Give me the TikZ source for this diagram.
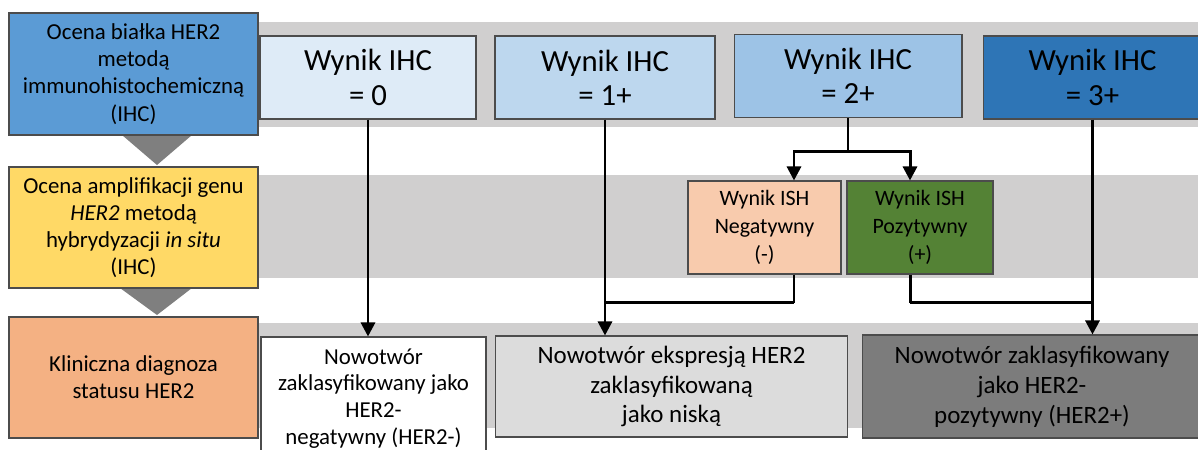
\documentclass[tikz,border=0pt]{standalone}
\usepackage{fontspec}
\setmainfont{Carlito}
\usetikzlibrary{arrows.meta,positioning}
\definecolor{band}{HTML}{D0CFCF}
\definecolor{chev}{HTML}{7F7F7F}
\definecolor{sideblue}{HTML}{5B9BD5}
\definecolor{sideyellow}{HTML}{FFD966}
\definecolor{sideorange}{HTML}{F4B183}
\definecolor{ihczero}{HTML}{DEEBF7}
\definecolor{ihcone}{HTML}{BDD7EE}
\definecolor{ihctwo}{HTML}{9DC3E6}
\definecolor{ihcthree}{HTML}{2E75B6}
\definecolor{ishneg}{HTML}{F8CBAD}
\definecolor{ishpos}{HTML}{548235}
\definecolor{lowgray}{HTML}{DCDCDC}
\definecolor{posgray}{HTML}{7C7C7C}

\begin{document}
\begin{tikzpicture}[x=0.02cm,y=-0.02cm,>={Triangle[length=2.8mm,width=2.8mm]},
  box/.style={draw=black!70,line width=0.6pt,align=center,inner sep=2pt},
  side/.style={box,minimum width=4.98cm,minimum height=2.42cm,font=\fontsize{13}{15.5}\selectfont},
  ihc/.style={box,minimum height=1.66cm,font=\fontsize{17.5}{19.5}\selectfont},
  ish/.style={box,minimum height=1.86cm,font=\fontsize{12.5}{16}\selectfont},
  res/.style={box,font=\fontsize{14.2}{17}\selectfont},
  link/.style={line width=1.7pt},
  flow/.style={link,->}]
\useasboundingbox (0,0) rectangle (1198,450);
\clip (0,0) rectangle (1198,450);
% grey bands behind the rows
\fill[band] (258,22) rectangle (1198,127);
\fill[band] (258,175) rectangle (1198,278);
\fill[band] (258,323) rectangle (1198,428);
% chevrons between the steps
\fill[chev] (122,135) -- (192,135) -- (157,165) -- cycle;
\fill[chev] (120,288) -- (192,288) -- (157,315) -- cycle;
% left column
\node[side,fill=sideblue,minimum height=2.44cm] (ihcstep) at (133.5,74) {Ocena białka HER2\\metodą\\immunohistochemiczną\\(IHC)};
\node[side,fill=sideyellow] (ishstep) at (133.5,227.5) {Ocena amplifikacji genu\\\textit{HER2} metodą\\hybrydyzacji \textit{in situ}\\(IHC)};
\node[side,fill=sideorange] (diag) at (133.5,377.5) {Kliniczna diagnoza\\statusu HER2};
% IHC results
\node[ihc,fill=ihczero,minimum width=4.32cm] (ihc0) at (368,77.5) {Wynik IHC\\= 0};
\node[ihc,fill=ihcone,minimum width=4.40cm] (ihc1) at (605,77.5) {Wynik IHC\\= 1+};
\node[ihc,fill=ihctwo,minimum width=4.56cm] (ihc2) at (848,76) {Wynik IHC\\= 2+};
\node[ihc,fill=ihcthree,minimum width=4.38cm] (ihc3) at (1092.5,77.5) {Wynik IHC\\= 3+};
% ISH results
\node[ish,fill=ishneg,minimum width=3.06cm] (ishn) at (764.5,227.5) {Wynik ISH\\Negatywny\\(-)};
\node[ish,fill=ishpos,minimum width=2.92cm] (ishp) at (920,227.5) {Wynik ISH\\Pozytywny\\(+)};
% diagnoses
\node[res,fill=white,minimum width=4.5cm,minimum height=2.46cm,font=\fontsize{13}{15.3}\selectfont] (resneg) at (373.5,398.5) {Nowotwór\\zaklasyfikowany jako\\HER2-\\negatywny (HER2-)};
\node[res,fill=lowgray,minimum width=7.06cm,minimum height=2.02cm] (reslow) at (671.5,386.5) {Nowotwór ekspresją HER2\\zaklasyfikowaną\\jako niską};
\node[res,fill=posgray,minimum width=6.8cm,minimum height=2.06cm] (respos) at (1032,386.5) {Nowotwór zaklasyfikowany\\jako HER2-\\pozytywny (HER2+)};
% connectors
\coordinate (negtop) at ([xshift=0.59cm]ishn.north);
\coordinate (postop) at ([xshift=-0.2cm]ishp.north);
\draw[flow] (ihc0.south) -- (ihc0.south |- resneg.north);
\draw[flow] (ihc1.south) -- (ihc1.south |- reslow.north);
\draw[flow] (ihc3.south) -- (ihc3.south |- respos.north);
\draw[link] (ihc2.south) -- ++(0,33) coordinate (fork);
\draw[flow] (fork) -| (negtop);
\draw[flow] (fork) -| (postop);
\draw[link] (negtop |- ishn.south) -- ++(0,28) coordinate (negjoin);
\draw[link] (negjoin) -- (negjoin -| ihc1.south);
\draw[link] (postop |- ishp.south) -- ++(0,28) coordinate (posjoin);
\draw[link] (posjoin) -- (posjoin -| ihc3.south);
\end{tikzpicture}
\end{document}
